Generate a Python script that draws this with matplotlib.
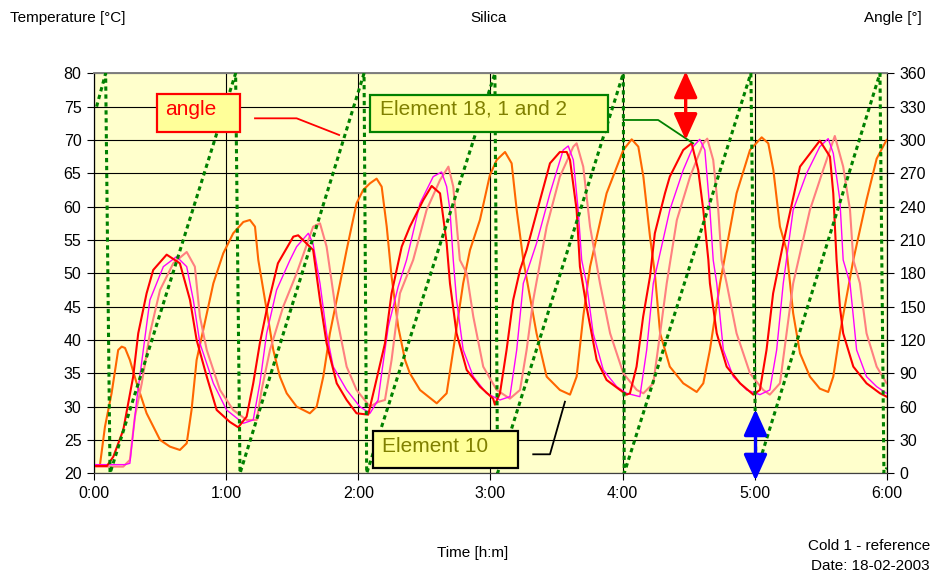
import matplotlib
matplotlib.use('Agg')
import matplotlib.pyplot as plt
from matplotlib.patches import Rectangle

plt.rcParams['font.family'] = ['Liberation Sans', 'DejaVu Sans']

# time in minutes, temperature in degC
red_pts = [(0, 21.1), (5.9, 21.1), (8.8, 22.5), (13.3, 26.5), (17.8, 34.5), (20.1, 41), (23.9, 47), (26.9, 50.5),
           (33.0, 52.8), (39.0, 51.5), (43.6, 46), (46.6, 40), (51.2, 34.5), (55.7, 29.5), (61.7, 27.7), (65.5, 26.9),
           (69.3, 28.5), (72.3, 33.5), (75.3, 39.5), (78.4, 44.5), (83.5, 51.5), (90.5, 55.5), (92.7, 55.7),
           (99.5, 53.5), (102.6, 46), (105.6, 39.5), (110.2, 33.5), (114.7, 31), (119.2, 29), (124.5, 28.8),
           (127.5, 33), (132.1, 39.5), (135.1, 47), (139.7, 54), (143.4, 57), (149.5, 61), (153.3, 63.1),
           (157.1, 62), (160.1, 54.5), (161.6, 48.5), (164.6, 41), (169.2, 35.5), (175.2, 33), (181.2, 31.2),
           (182.0, 30.3), (184.3, 32), (187.3, 38.5), (190.3, 46), (193.4, 50.5), (196.4, 53.5), (202.5, 61),
           (207.0, 66.5), (211.5, 68.2), (214.6, 68.2), (216.1, 67), (219.1, 59.5), (220.6, 51), (223.6, 45),
           (228.2, 37), (232.7, 34), (238.8, 32.5), (241.8, 31.8), (243.3, 32), (246.3, 36), (249.3, 43.5),
           (252.4, 49.5), (254.6, 56), (259.2, 62), (261.4, 64.5), (267.5, 68.5), (271.3, 69.5), (274.3, 65.5),
           (276.6, 59.5), (278.9, 52), (279.6, 48.5), (282.7, 41), (287.2, 36), (293.3, 33.5), (299.3, 31.8),
           (302.3, 32.5), (305.3, 38.5), (308.3, 47), (312.9, 54.5), (320.5, 66), (329.5, 69.9), (334.1, 67.5),
           (335.6, 62), (337.1, 52), (338.6, 45), (340.1, 41), (344.7, 36), (350.7, 33.5), (356.8, 32), (359.8, 31.5)]

magenta_pts = [(0, 21.3), (14.1, 21.3), (16.3, 21.5), (19.4, 31), (22.4, 38.5), (25.4, 46), (31.5, 51), (37.5, 52.5),
               (42.1, 51), (45.1, 46), (48.1, 39.5), (54.2, 33.5), (60.2, 29.5), (67.8, 27.5), (72.3, 28), (75.3, 33.5),
               (78.4, 41), (82.9, 47.5), (89.0, 52), (92.0, 54), (97.3, 56), (99.4, 54.5), (102.6, 48.5), (105.6, 41),
               (108.6, 36), (114.7, 32.5), (120.7, 30), (125.3, 29), (129.0, 31), (130.6, 35), (133.6, 42),
               (138.1, 48), (141.9, 52), (148.0, 60.5), (154.0, 64.5), (157.8, 65.2), (160.1, 63), (161.6, 59.5),
               (163.1, 52), (164.6, 46), (167.6, 38.5), (172.2, 34.5), (178.2, 32), (184.3, 31), (188.8, 31.5),
               (191.9, 38.5), (194.9, 48.5), (200.9, 54.5), (207.0, 62), (213.0, 68.5), (215.3, 69.1), (217.6, 67),
               (219.8, 59.5), (221.4, 52), (223.6, 48.5), (226.6, 41), (231.2, 35.5), (237.3, 33), (241.8, 32),
               (247.8, 31.5), (250.9, 38.5), (253.9, 48.5), (261.4, 59.5), (267.5, 65.5), (272.0, 69), (275.0, 70.1),
               (277.3, 68.5), (279.6, 59.5), (281.1, 52), (282.7, 48.5), (285.7, 38.5), (290.2, 34.5), (296.3, 32.5),
               (302.3, 31.8), (306.8, 32.5), (309.9, 38.5), (312.9, 48.5), (317.4, 59.5), (323.5, 65), (329.5, 69),
               (333.3, 70.2), (335.6, 68), (338.6, 61), (340.1, 52), (343.2, 48.5), (346.2, 38.5), (350.7, 34.5),
               (355.3, 33), (359.8, 32)]

pink_pts = [(0, 21), (13.3, 21), (16.3, 22), (18.6, 28.5), (21.7, 33.5), (25.4, 41), (30.0, 47.5), (36.0, 51.5),
            (42.1, 53.2), (45.8, 51), (48.1, 43.5), (51.2, 38.5), (57.2, 32.5), (63.2, 29.5), (69.3, 28), (73.9, 28),
            (76.1, 32.5), (79.9, 38.5), (85.9, 45), (92.0, 50), (99.5, 57), (102.6, 57.5), (105.6, 54), (110.2, 43.5),
            (114.7, 36), (119.2, 32.5), (125.3, 30), (129.0, 30.7), (132.1, 31), (135.1, 37), (138.9, 47),
            (144.9, 52), (151.0, 59.5), (157.1, 64), (160.9, 66), (163.1, 63), (166.1, 52), (169.2, 50),
            (172.2, 43.5), (176.7, 36), (182.8, 32.5), (188.8, 31.2), (193.4, 32.5), (196.4, 38.5), (199.4, 46),
            (205.5, 57), (211.5, 64.5), (217.6, 69), (219.1, 69.5), (222.1, 66), (225.2, 57), (229.7, 48.5),
            (234.3, 41), (240.3, 35), (246.4, 32.5), (249.4, 32), (253.9, 33.5), (257.0, 41), (260.0, 48.5),
            (264.6, 58), (270.6, 64.5), (276.6, 69.5), (278.4, 70.2), (281.1, 67), (283.4, 59.5), (284.9, 52),
            (287.2, 48.5), (291.7, 41), (297.8, 35), (303.8, 32.5), (306.8, 31.8), (311.4, 33.5), (314.4, 41),
            (317.4, 48.5), (325.0, 59.5), (331.0, 65.5), (336.3, 70.6), (340.1, 66), (343.2, 59.5), (344.7, 52),
            (347.7, 48.5), (350.7, 41), (355.3, 36), (359.8, 33.5)]

orange_pts = [(0, 21.2), (2.7, 21.2), (5.0, 27), (8.0, 32), (11.0, 38.5), (12.6, 39), (14.1, 38.8), (16.3, 37),
              (19.4, 33.5), (23.9, 29), (30.0, 25), (34.5, 24), (39.0, 23.5), (42.1, 24.5), (44.3, 29.5), (46.6, 37),
              (49.6, 41.5), (54.2, 48.5), (58.7, 53), (63.2, 56), (67.8, 57.7), (70.8, 58), (73.1, 57), (74.6, 52),
              (78.4, 44.5), (81.4, 38.5), (84.4, 34.5), (87.5, 32), (92.0, 30), (98.0, 29), (101.1, 30), (104.1, 34.5),
              (107.1, 41), (111.7, 48.5), (114.7, 53.5), (119.2, 60.5), (122.2, 62.5), (125.3, 63.5), (128.3, 64.2),
              (130.6, 63), (132.9, 57), (135.1, 49.5), (138.1, 42), (141.2, 37), (143.4, 35), (148.0, 32.5),
              (155.6, 30.5), (160.1, 32), (163.1, 38.5), (167.6, 48.5), (170.7, 53.5), (175.2, 58), (179.7, 64.7),
              (182.8, 67), (186.6, 68.2), (189.6, 66.5), (191.9, 59.5), (194.9, 52), (200.9, 41), (205.5, 34.5),
              (211.5, 32.5), (216.1, 31.8), (219.1, 34.5), (222.1, 43.5), (225.2, 51), (232.7, 62), (240.3, 68.5),
              (244.1, 70.1), (247.1, 69), (249.4, 64.5), (252.4, 55.5), (254.6, 50), (257.0, 41), (261.4, 36),
              (267.5, 33.5), (273.6, 32.2), (276.6, 33.5), (279.6, 38.5), (284.2, 48.5), (291.7, 62), (297.8, 68.5),
              (303.1, 70.4), (306.1, 69.5), (308.4, 65.5), (311.4, 57), (314.4, 53.5), (317.4, 44), (320.5, 38),
              (325.0, 34.5), (329.5, 32.7), (333.3, 32.2), (335.6, 34.5), (338.6, 41), (344.7, 52), (350.7, 61),
              (355.3, 67.2), (359.8, 70)]

# time in minutes, angle in degrees
angle_pts = [(1.2, 330), (5.3, 360), (7.3, 0), (64.3, 360), (66.3, 0), (122.6, 360), (123.8, 0), (182.0, 360),
             (183.2, 0), (240.3, 360), (240.7, 0), (298.2, 360), (300.5, 0), (356.8, 360), (358.6, 0), (360, 5)]

hour_ticks = [0, 60, 120, 180, 240, 300, 360]
hour_labels = ['0:00', '1:00', '2:00', '3:00', '4:00', '5:00', '6:00']
temp_ticks = list(range(20, 81, 5))
angle_ticks = list(range(0, 361, 30))


def a(t):
    # temperature position expressed on the angle axis
    return (t - 20) * 6


fig = plt.figure(figsize=(9.34, 5.76), dpi=100)
ax = fig.add_axes([0.1006, 0.1783, 0.8491, 0.6944])
ax.set_facecolor('#FFFFCC')

series = [(orange_pts, '#FF6600', 1.5), (pink_pts, '#FF8080', 1.5),
          (magenta_pts, '#FF00FF', 1.0), (red_pts, '#FF0000', 1.5)]
for pts, col, lw in series:
    ax.plot([p[0] for p in pts], [p[1] for p in pts], color=col, lw=lw, zorder=3)

ax.set_xlim(0, 360)
ax.set_ylim(20, 80)
ax.set_xticks(hour_ticks)
ax.set_xticklabels(hour_labels)
ax.set_yticks(temp_ticks)
ax.grid(True, color='black', lw=0.8, zorder=1)
ax.set_axisbelow(True)
ax.tick_params(direction='out', length=5, width=0.8, labelsize=11.5, pad=4)

ax2 = ax.twinx()
ax2.plot([p[0] for p in angle_pts], [p[1] for p in angle_pts], color='#008000', lw=2.2,
         linestyle=(0, (1.4, 1.2)), zorder=4)
ax2.set_ylim(0, 360)
ax2.set_yticks(angle_ticks)
ax2.tick_params(direction='out', length=5, width=0.8, labelsize=11.5, pad=4)

for axx in (ax, ax2):
    axx.spines['top'].set_color('#808080')
    axx.spines['top'].set_linewidth(1.2)
    axx.spines['bottom'].set_color('#404040')

# annotation boxes
box_kw = dict(facecolor='#FFFF99', lw=1.6, clip_on=False, zorder=6)
ax2.add_patch(Rectangle((28.5, a(71.15)), 66.3 - 28.5, a(76.85) - a(71.15), edgecolor='#FF0000', **box_kw))
ax2.text(32.2, a(74.6), 'angle', color='#FF0000', fontsize=15, va='center', ha='left', zorder=7)
ax2.plot([73.1, 92.0, 111.3], [a(73.25), a(73.25), a(70.75)], color='#FF0000', lw=1.3, zorder=6)

ax2.add_patch(Rectangle((125.3, a(71.24)), 233.4 - 125.3, a(76.75) - a(71.24), edgecolor='#008000', **box_kw))
ax2.text(129.8, a(74.6), 'Element 18, 1 and 2', color='#808000', fontsize=15, va='center', ha='left', zorder=7)
ax2.plot([240.3, 256.1, 272.0], [a(73.0), a(73.0), a(69.5)], color='#008000', lw=1.3, zorder=6)

ax2.add_patch(Rectangle((126.5, a(20.75)), 192.3 - 126.5, a(26.35) - a(20.75), edgecolor='black', **box_kw))
ax2.text(130.7, a(24.0), 'Element 10', color='#808000', fontsize=15, va='center', ha='left', zorder=7)
ax2.plot([199.4, 207.0, 213.8], [a(22.85), a(22.85), a(30.74)], color='black', lw=1.3, zorder=6)

arrow_style = '<|-|>,head_length=0.8,head_width=0.36'
ax2.annotate('', xy=(268.6, a(80.3)), xytext=(268.6, a(70.0)), annotation_clip=False,
             arrowprops=dict(arrowstyle=arrow_style, color='#FF0000', lw=2.4, mutation_scale=20,
                             shrinkA=0, shrinkB=0), zorder=7)
ax2.annotate('', xy=(300.3, a(29.6)), xytext=(300.3, a(18.9)), annotation_clip=False,
             arrowprops=dict(arrowstyle=arrow_style, color='#0000FF', lw=2.4, mutation_scale=20,
                             shrinkA=0, shrinkB=0), zorder=7)

fig.text(0.0107, 0.969, 'Temperature [°C]', fontsize=11, va='center', ha='left')
fig.text(0.5236, 0.969, 'Silica', fontsize=11, va='center', ha='center')
fig.text(0.987, 0.969, 'Angle [°]', fontsize=11, va='center', ha='right')
fig.text(0.5064, 0.040, 'Time [h:m]', fontsize=11, va='center', ha='center')
fig.text(0.9957, 0.052, 'Cold 1 - reference', fontsize=11, va='center', ha='right')
fig.text(0.9957, 0.0174, 'Date: 18-02-2003', fontsize=11, va='center', ha='right')

fig.savefig('out.png', dpi=100)
